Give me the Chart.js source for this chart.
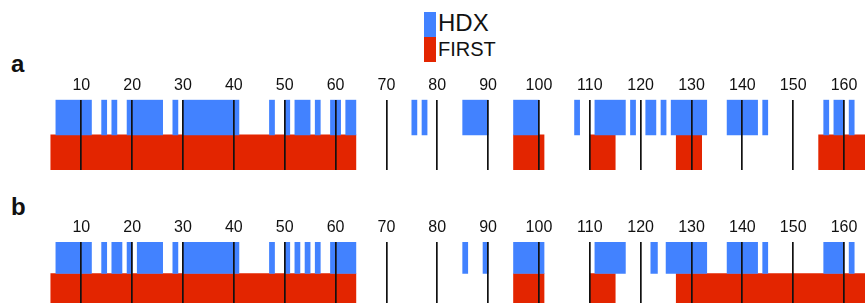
<!DOCTYPE html>
<html>
<head>
<meta charset="utf-8">
<script src="https://cdn.jsdelivr.net/npm/chart.js@4.4.1/dist/chart.umd.min.js"></script>
<style>
  html, body { margin: 0; padding: 0; background: #fff; }
  #wrap { position: relative; width: 865px; height: 303px; overflow: hidden; background: #fff; font-family: "Liberation Sans", Arial, sans-serif; }
  .cv { position: absolute; left: 0; }
  .panel { position: absolute; left: 11px; font-weight: bold; font-size: 24px; line-height: 24px; color: #111; }
  .sw { position: absolute; left: 424px; width: 12px; }
  .lt { position: absolute; left: 438px; color: #111; white-space: nowrap; }
</style>
</head>
<body>
<div id="wrap">
  <div class="sw" style="top:12px;height:24.5px;background:#4282ff;"></div>
  <div class="sw" style="top:36.5px;height:25.5px;background:#e32500;"></div>
  <div class="lt" style="top:11.2px;font-size:24px;line-height:24px;">HDX</div>
  <div class="lt" style="top:39.1px;font-size:20px;line-height:20px;">FIRST</div>
  <div class="panel" style="top:51.7px;">a</div>
  <div class="panel" style="top:195.4px;">b</div>
  <div class="cv" style="top:60px;width:865px;height:110px;"><canvas id="ca"></canvas></div>
  <div class="cv" style="top:195px;width:865px;height:110px;"><canvas id="cb"></canvas></div>
</div>
<script>
// Residue ranges [start, end]
const tracks = ['HDX', 'FIRST'];
const tickValues = [10, 20, 30, 40, 50, 60, 70, 80, 90, 100, 110, 120, 130, 140, 150, 160];

const hdxA = [[5,12],[14,15],[16,17],[19,26],[28,29],[30,41],[47,48],[50,51],[52,55],[56,57],[59,61],[62,64],
              [75,76],[77,78],[85,90],[95,100],[107,108],[111,117],[118,119],[121,123],[124,125],[126,133],
              [137,143],[144,145],[156,157],[158,160],[161,162]];
const firstA = [[4,64],[95,101],[110,115],[127,132],[155,165]];

const hdxB = [[5,12],[14,15],[16,18],[19,20],[21,26],[28,29],[30,41],[47,48],[50,51],[52,53],[54,55],[56,57],[59,64],
              [85,86],[89,90],[95,101],[111,117],[122,123.3],[125,133],[137,143],[144,145],[156,160],[161,162]];
const firstB = [[4,64],[95,101],[110,115],[127,165]];

const BLUE = '#4282ff';
const RED = '#e32500';

function makeChart(id, hdx, first, padTop) {
  const toPts = (arr, track) => arr.map(r => ({ x: r, y: track }));
  return new Chart(document.getElementById(id), {
    type: 'bar',
    data: {
      labels: tracks,
      datasets: [
        { label: 'HDX', data: toPts(hdx, 'HDX'), backgroundColor: BLUE, grouped: false,
          categoryPercentage: 1, barPercentage: 1, borderWidth: 0, borderSkipped: false },
        { label: 'FIRST', data: toPts(first, 'FIRST'), backgroundColor: RED, grouped: false,
          categoryPercentage: 1, barPercentage: 1, borderWidth: 0, borderSkipped: false }
      ]
    },
    options: {
      indexAxis: 'y',
      responsive: true,
      maintainAspectRatio: false,
      animation: false,
      layout: { padding: { left: 30.45, right: 0, top: padTop, bottom: 0 } },
      plugins: { legend: { display: false }, tooltip: { enabled: false } },
      scales: {
        x: {
          type: 'linear',
          position: 'top',
          min: 0,
          max: 164.12,
          z: 1,
          border: { display: false },
          grid: { color: '#111', lineWidth: 1.7, drawTicks: false, z: 1 },
          afterBuildTicks: (scale) => { scale.ticks = tickValues.map(v => ({ value: v })); },
          ticks: {
            padding: 5,
            color: '#111',
            maxRotation: 0,
            autoSkip: false,
            font: { family: '"Liberation Sans", Arial, sans-serif', size: 16 },
            callback: (v) => String(v)
          }
        },
        y: {
          type: 'category',
          labels: tracks,
          display: false
        }
      }
    }
  });
}

makeChart('ca', hdxA, firstA, 10.5);
makeChart('cb', hdxB, firstB, 17.8);
</script>
</body>
</html>
